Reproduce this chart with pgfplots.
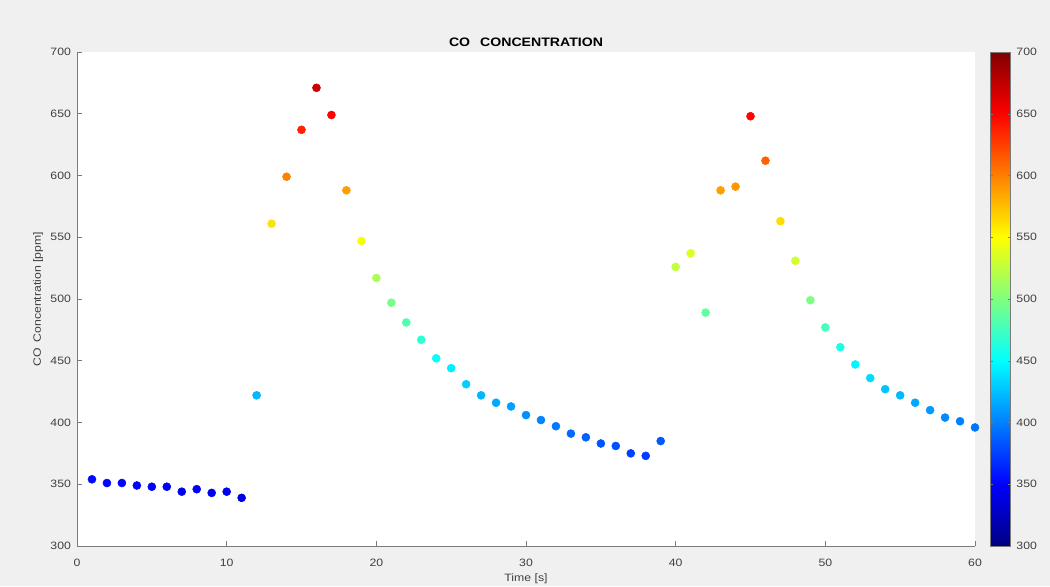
\documentclass[border=0pt]{standalone}
\usepackage{fontspec}
\setmainfont{Liberation Sans}[FakeStretch=1.15]
\usepackage{pgfplots}
\usepackage{pgfplotstable}
\pgfplotsset{compat=1.18}

\definecolor{figbg}{HTML}{F0F0F0}
\definecolor{axgray}{HTML}{7A7A7A}
\definecolor{lblgray}{HTML}{404040}

% CO concentration, one sample per second
\pgfplotstableread{
t co
1 354
2 351
3 351
4 349
5 348
6 348
7 344
8 346
9 343
10 344
11 339
12 422
13 561
14 599
15 637
16 671
17 649
18 588
19 547
20 517
21 497
22 481
23 467
24 452
25 444
26 431
27 422
28 416
29 413
30 406
31 402
32 397
33 391
34 388
35 383
36 381
37 375
38 373
39 385
40 526
41 537
42 489
43 588
44 591
45 648
46 612
47 563
48 531
49 499
50 477
51 461
52 447
53 436
54 427
55 422
56 416
57 410
58 404
59 401
60 396
}\codata

\begin{document}
\begin{tikzpicture}
% figure background, 1050x586 px at 0.75pt per px
\fill[figbg] (-57.75pt,-30pt) rectangle (729.75pt,409.5pt);
\useasboundingbox (-57.75pt,-30pt) rectangle (729.75pt,409.5pt);
\begin{axis}[
    scale only axis,
    width=673.5pt, height=370.5pt,
    xmin=0, xmax=60, ymin=300, ymax=700,
    xtick={0,10,...,60},
    ytick={300,350,...,700},
    axis x line*=bottom, axis y line*=left,
    axis line style={draw=axgray, -},
    axis background/.style={fill=white},
    tick align=inside,
    major tick length=3.5pt,
    tick style={axgray, line width=0.5pt},
    /pgf/number format/assume math mode=true,
    tick label style={font=\fontsize{8}{9}\selectfont, text=lblgray},
    xticklabel style={yshift=-6pt},
    yticklabel style={xshift=-1pt},
    title={CO\enspace\ CONCENTRATION},
    title style={font=\bfseries\fontsize{9.2}{10}\selectfont, at={(0.5,1)}, anchor=south, yshift=-2pt, inner sep=0pt},
    xlabel={Time [s]},
    ylabel={CO\enspace Concentration [ppm]},
    label style={font=\fontsize{8}{9}\selectfont, text=lblgray},
    xlabel style={at={(axis description cs:0.5,-0.066)}, anchor=center},
    ylabel style={at={(axis description cs:-0.0434,0.5)}, anchor=center},
    colormap/jet,
    point meta min=300, point meta max=700,
    colorbar,
    colorbar style={
        at={(parent axis.north east)}, anchor=north west, xshift=3pt,
        width=15pt,
        ytick={300,350,...,700},
        tick align=inside,
        major tick length=2pt,
        axis line style={draw=axgray},
        tick style={axgray},
        yticklabel style={font=\fontsize{8}{9}\selectfont, text=lblgray, xshift=1pt},
        /pgf/number format/assume math mode=true,
    },
]
\addplot[
    scatter, only marks, mark=*, mark size=3pt,
    scatter/use mapped color={draw=mapped color, fill=mapped color},
] table[x=t, y=co, meta=co] {\codata};
\end{axis}
\end{tikzpicture}
\end{document}
